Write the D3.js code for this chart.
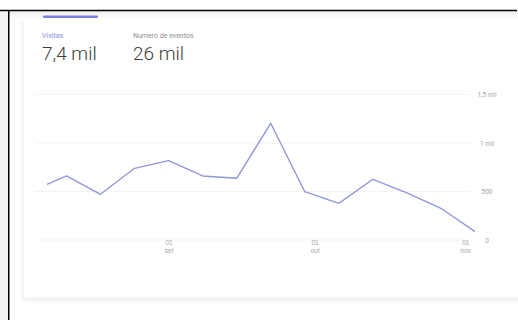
<!DOCTYPE html>
<html>
<head>
<meta charset="utf-8">
<script src="https://cdn.jsdelivr.net/npm/d3@7"></script>
<style>
  html, body { margin: 0; padding: 0; background: #ffffff; }
  svg { display: block; font-family: Roboto, "Noto Sans", sans-serif; }
</style>
</head>
<body>
<svg id="chart" width="518" height="320"></svg>
<script>
// Weekly visits (first point is the partial week at the start of the range)
const dates = ["2019-08-07", "2019-08-11", "2019-08-18", "2019-08-25", "2019-09-01",
               "2019-09-08", "2019-09-15", "2019-09-22", "2019-09-29", "2019-10-06",
               "2019-10-13", "2019-10-20", "2019-10-27", "2019-11-03"];
const visits = [574, 660, 471, 739, 818, 660, 636, 1203, 498, 378, 626, 485, 327, 86];

// Header metrics
const metricNames = ["Visitas", "Numero de eventos"];
const metricValues = ["7,4 mil", "26 mil"];

// Axis ticks
const yTicks = [0, 500, 1000, 1500];
const yTickLabels = ["0", "500", "1 mil", "1,5 mil"];
const xTickDates = ["2019-09-01", "2019-10-01", "2019-11-01"];
const xTickDays = ["01", "01", "01"];
const xTickMonths = ["set", "out", "nov"];

const parse = d3.utcParse("%Y-%m-%d");
const svg = d3.select("#chart");

// Page frame
svg.append("rect").attr("x", 0).attr("y", 11).attr("width", 8).attr("height", 309).attr("fill", "#f3f3f5");
const defs = svg.append("defs");
const shadow = defs.append("filter").attr("id", "cardShadow")
  .attr("x", "-5%").attr("y", "-5%").attr("width", "110%").attr("height", "115%");
shadow.append("feDropShadow").attr("dx", 0).attr("dy", 2).attr("stdDeviation", 2)
  .attr("flood-color", "#000").attr("flood-opacity", 0.08);

const grad = defs.append("linearGradient").attr("id", "topFade").attr("x1", 0).attr("x2", 0).attr("y1", 0).attr("y2", 1);
grad.append("stop").attr("offset", 0).attr("stop-color", "#efeff1");
grad.append("stop").attr("offset", 1).attr("stop-color", "#ffffff");

svg.append("rect").attr("x", 23).attr("y", 11).attr("width", 500).attr("height", 287)
  .attr("fill", "#fff").attr("stroke", "#eeeef0").attr("stroke-width", 1)
  .attr("filter", "url(#cardShadow)");
svg.append("rect").attr("x", 9).attr("y", 11).attr("width", 509).attr("height", 10).attr("fill", "url(#topFade)");

svg.append("line").attr("x1", 0).attr("x2", 517).attr("y1", 10.5).attr("y2", 10.5)
  .attr("stroke", "#000").attr("stroke-width", 1.5);
svg.append("line").attr("x1", 8.75).attr("x2", 8.75).attr("y1", 10).attr("y2", 320)
  .attr("stroke", "#000").attr("stroke-width", 1.5);

// Header: selected metric tab and totals
svg.append("rect").attr("x", 43).attr("y", 15.5).attr("width", 55).attr("height", 2.5)
  .attr("rx", 1.2).attr("fill", "#7b7fe0");

const metricX = [42, 133];
metricNames.forEach((name, i) => {
  svg.append("text").attr("x", metricX[i]).attr("y", 38)
    .attr("font-size", 7).attr("fill", i === 0 ? "#8a8ee3" : "#8e8e93")
    .text(name);
  svg.append("text").attr("x", metricX[i]).attr("y", 60)
    .attr("font-size", 19).attr("font-weight", 300).attr("fill", "#3c4043")
    .text(metricValues[i]);
});

// Scales
const x = d3.scaleUtc()
  .domain(d3.extent(dates, parse))
  .range([47, 475]);
const y = d3.scaleLinear()
  .domain([0, 1500])
  .range([240, 94.5]);

// Gridlines
svg.append("g").selectAll("line").data(yTicks).join("line")
  .attr("x1", 35).attr("x2", 470)
  .attr("y1", d => y(d)).attr("y2", d => y(d))
  .attr("stroke", "#f3f3f5").attr("stroke-width", 1);

// Right-hand value axis
const yAxis = d3.axisRight(y).tickValues(yTicks).tickSize(0)
  .tickFormat((d, i) => yTickLabels[i]);
const yg = svg.append("g").attr("transform", "translate(487,0)").call(yAxis);
yg.select(".domain").remove();
yg.selectAll("text").attr("x", 0).attr("text-anchor", "middle")
  .attr("font-size", 6.5).attr("fill", "#a4a4a8").attr("font-family", "Roboto, sans-serif");

// Date axis with day over month
const xAxis = d3.axisBottom(x).tickValues(xTickDates.map(parse)).tickSize(0).tickFormat("");
const xg = svg.append("g").attr("transform", "translate(0,238)").call(xAxis);
xg.select(".domain").remove();
xg.selectAll(".tick").each(function(d, i) {
  const t = d3.select(this);
  t.append("text").attr("y", 7).attr("text-anchor", "middle")
    .attr("font-size", 6.5).attr("fill", "#a4a4a8").text(xTickDays[i]);
  t.append("text").attr("y", 14.5).attr("text-anchor", "middle")
    .attr("font-size", 6.5).attr("fill", "#a4a4a8").text(xTickMonths[i]);
});

// Visits line
const series = dates.map((d, i) => ({ date: parse(d), value: visits[i] }));
svg.append("path").datum(series)
  .attr("fill", "none").attr("stroke", "#9396da").attr("stroke-width", 1.4)
  .attr("stroke-linejoin", "round")
  .attr("d", d3.line().x(d => x(d.date)).y(d => y(d.value)));
</script>
</body>
</html>
